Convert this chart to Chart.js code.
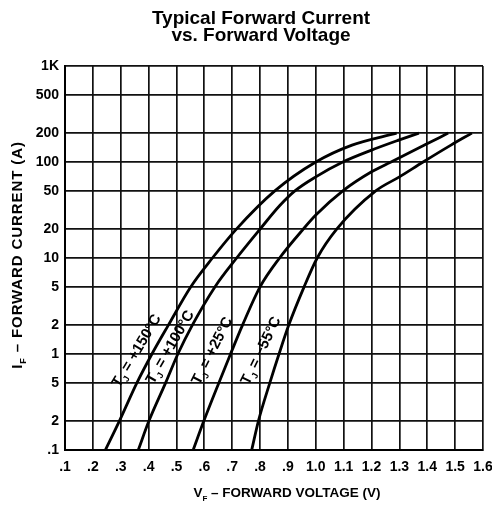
<!DOCTYPE html>
<html>
<head>
<meta charset="utf-8">
<script src="https://cdn.jsdelivr.net/npm/chart.js@4.4.1/dist/chart.umd.min.js"></script>
<style>
  html, body { margin: 0; padding: 0; background: #fff; }
</style>
</head>
<body>
<canvas id="ivChart" width="492" height="506"></canvas>
<script>
// forward voltage (V) / forward current (A) for each junction temperature
const tempLabels = ['+150°C', '+100°C', '+25°C', '−55°C'];

const vf150 = [0.245, 0.295, 0.358, 0.412, 0.471, 0.551, 0.629, 0.715, 0.853, 1.0, 1.13, 1.29];
const if150 = [0.1, 0.2, 0.5, 1, 2, 5, 10, 20, 50, 100, 150, 200];

const vf100 = [0.363, 0.401, 0.461, 0.505, 0.557, 0.638, 0.716, 0.80, 0.87, 0.925, 1.0, 1.097, 1.2, 1.3, 1.37];
const if100 = [0.1, 0.2, 0.5, 1, 2, 5, 10, 20, 35, 50, 70, 100, 133, 170, 200];

const vf25 = [0.56, 0.598, 0.652, 0.694, 0.737, 0.80, 0.87, 0.955, 1.0, 1.097, 1.2, 1.27, 1.39, 1.475];
const if25 = [0.1, 0.2, 0.5, 1, 2, 5, 10, 20, 28, 50, 79, 100, 150, 200];

const vfm55 = [0.77, 0.794, 0.835, 0.868, 0.903, 0.958, 1.005, 1.075, 1.215, 1.3, 1.385, 1.485, 1.56];
const ifm55 = [0.1, 0.2, 0.5, 1, 2, 5, 10, 20, 50, 70, 100, 150, 200];

const xTicks = [0.1, 0.2, 0.3, 0.4, 0.5, 0.6, 0.7, 0.8, 0.9, 1.0, 1.1, 1.2, 1.3, 1.4, 1.5, 1.6];
const xTickLabels = ['.1', '.2', '.3', '.4', '.5', '.6', '.7', '.8', '.9', '1.0', '1.1', '1.2', '1.3', '1.4', '1.5', '1.6'];
const yTicks = [0.1, 0.2, 0.5, 1, 2, 5, 10, 20, 50, 100, 200, 500, 1000];
const yTickLabels = ['.1', '2', '5', '1', '2', '5', '10', '20', '50', '100', '200', '500', '1K'];

// where the curve labels sit (data coords) and their slant
const labelAt = [
  { v: 0.352, i: 1.1, angle: -59 },
  { v: 0.472, i: 1.2, angle: -60 },
  { v: 0.623, i: 1.1, angle: -63 },
  { v: 0.798, i: 1.1, angle: -64 }
];

const FONT = '"Liberation Sans", Arial, sans-serif';

function toPoints(vs, is) {
  return vs.map((v, k) => ({ x: v, y: is[k] }));
}

// text with a subscript after the first part, centred on x, y = baseline
function drawSub(ctx, main, sub, rest, x, y, size, spacing) {
  const big = `bold ${size}px ${FONT}`;
  const small = `bold ${Math.round(size * 0.62)}px ${FONT}`;
  ctx.letterSpacing = (spacing || 0) + 'px';
  ctx.font = big;
  const w1 = ctx.measureText(main).width;
  const w3 = ctx.measureText(rest).width;
  ctx.font = small;
  const w2 = ctx.measureText(sub).width;
  let cx = x - (w1 + w2 + w3) / 2;
  ctx.textAlign = 'left';
  ctx.textBaseline = 'alphabetic';
  ctx.font = big;
  ctx.fillText(main, cx, y);
  cx += w1;
  ctx.font = small;
  ctx.fillText(sub, cx, y + size * 0.28);
  cx += w2;
  ctx.font = big;
  ctx.fillText(rest, cx, y);
  ctx.letterSpacing = '0px';
}

const textPlugin = {
  id: 'textPlugin',
  afterDraw(chart) {
    const ctx = chart.ctx;
    const xs = chart.scales.x, ys = chart.scales.y;
    ctx.save();
    ctx.fillStyle = '#000';

    // title
    ctx.font = `bold 19px ${FONT}`;
    ctx.textAlign = 'center';
    ctx.textBaseline = 'alphabetic';
    ctx.fillText('Typical Forward Current', 261, 24);
    ctx.fillText('vs. Forward Voltage', 261, 41);

    // axis titles
    drawSub(ctx, 'V', 'F', ' – FORWARD VOLTAGE (V)', 287, 497, 13.5, 0);
    ctx.save();
    ctx.translate(22, 255);
    ctx.rotate(-Math.PI / 2);
    drawSub(ctx, 'I', 'F', ' – FORWARD CURRENT (A)', 0, 0, 15, 0.9);
    ctx.restore();

    // curve labels
    labelAt.forEach((p, k) => {
      const px = xs.getPixelForValue(p.v);
      const py = ys.getPixelForValue(p.i);
      ctx.save();
      ctx.translate(px, py);
      ctx.rotate(p.angle * Math.PI / 180);
      drawSub(ctx, 'T', 'J', ' = ' + tempLabels[k], 0, 6, 15, 0);
      ctx.restore();
    });
    ctx.restore();
  }
};

const curve = (vs, is, name) => ({
  label: 'TJ = ' + name,
  data: toPoints(vs, is),
  showLine: true,
  borderColor: '#000',
  borderWidth: 2.8,
  pointRadius: 0,
  cubicInterpolationMode: 'monotone',
  fill: false
});

new Chart(document.getElementById('ivChart').getContext('2d'), {
  type: 'scatter',
  data: {
    datasets: [
      curve(vf150, if150, tempLabels[0]),
      curve(vf100, if100, tempLabels[1]),
      curve(vf25, if25, tempLabels[2]),
      curve(vfm55, ifm55, tempLabels[3])
    ]
  },
  options: {
    responsive: false,
    devicePixelRatio: 1,
    animation: false,
    layout: { padding: { top: 66, right: 9, left: 0, bottom: 0 } },
    plugins: {
      legend: { display: false },
      tooltip: { enabled: false },
      title: { display: false }
    },
    scales: {
      x: {
        type: 'linear',
        min: 0.1,
        max: 1.6,
        afterBuildTicks: s => { s.ticks = xTicks.map(v => ({ value: v })); },
        afterFit: s => { s.height = 56; s.paddingLeft = 0; s.paddingRight = 0; },
        ticks: {
          callback: (v, idx) => xTickLabels[idx],
          font: { family: FONT, size: 14, weight: 'bold' },
          color: '#000',
          padding: 9,
          maxRotation: 0,
          autoSkip: false
        },
        grid: { color: '#111', lineWidth: 1.7, drawTicks: false },
        border: { color: '#000', width: 2 }
      },
      y: {
        type: 'logarithmic',
        min: 0.1,
        max: 1000,
        afterBuildTicks: s => { s.ticks = yTicks.map(v => ({ value: v })); },
        afterFit: s => { s.width = 65; s.paddingTop = 0; s.paddingBottom = 0; },
        ticks: {
          callback: (v, idx) => yTickLabels[idx],
          font: { family: FONT, size: 14, weight: 'bold' },
          color: '#000',
          padding: 6,
          autoSkip: false
        },
        grid: { color: '#111', lineWidth: 1.7, drawTicks: false },
        border: { color: '#000', width: 2 }
      }
    }
  },
  plugins: [textPlugin]
});
</script>
</body>
</html>
